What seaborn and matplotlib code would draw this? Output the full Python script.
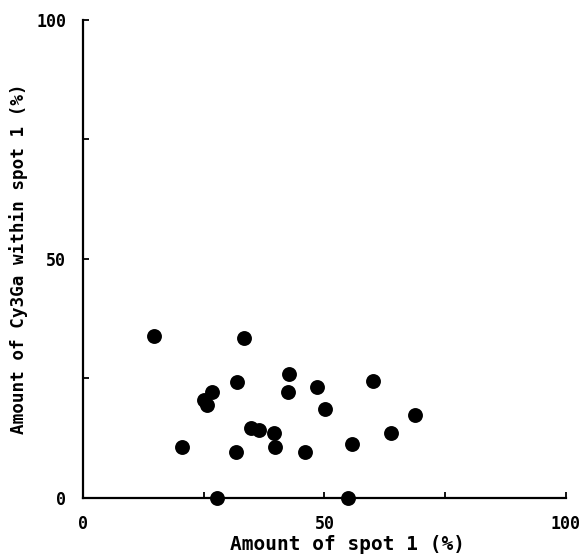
"""Scatter of Cy3Ga content within spot 1 against amount of spot 1."""
import matplotlib.pyplot as plt
import seaborn as sns

# values
spot1_amount = [14.8, 33.3, 42.7, 31.8, 60.1, 48.5, 42.5, 26.7, 25.1, 25.7, 50.2, 68.7,
                34.8, 36.5, 39.5, 63.7, 20.6, 39.8, 55.8, 31.7, 46.0, 27.8, 54.8]
cy3ga_within = [33.9, 33.4, 25.9, 24.2, 24.5, 23.2, 22.1, 22.2, 20.5, 19.5, 18.7, 17.3,
                14.6, 14.3, 13.7, 13.7, 10.7, 10.7, 11.2, 9.7, 9.6, 0.0, 0.0]

tick_values = [0, 25, 50, 75, 100]
tick_labels = ["0", "", "50", "", "100"]

sns.set_style("ticks")
plt.rcParams["font.family"] = ["DejaVu Sans Mono", "DejaVu Sans"]
plt.rcParams["font.weight"] = "bold"
plt.rcParams["text.color"] = "black"
plt.rcParams["axes.labelcolor"] = "black"
plt.rcParams["xtick.color"] = "black"
plt.rcParams["ytick.color"] = "black"

fig = plt.figure(figsize=(5.84, 5.54), dpi=100)
ax = fig.add_axes([0.1421, 0.1011, 0.827, 0.8628])

sns.scatterplot(x=spot1_amount, y=cy3ga_within, ax=ax, color="black", s=115,
                edgecolor="black", linewidth=0, clip_on=False, zorder=5)

ax.set_xlim(0, 100)
ax.set_ylim(0, 100)
ax.set_xticks(tick_values)
ax.set_xticklabels(tick_labels)
ax.set_yticks(tick_values)
ax.set_yticklabels(tick_labels)
ax.tick_params(direction="in", length=4, width=1.3, colors="black",
               labelsize=12, pad=12)
for lbl in ax.get_xticklabels() + ax.get_yticklabels():
    lbl.set_fontweight("bold")

for side in ["top", "right"]:
    ax.spines[side].set_visible(False)
for side in ["left", "bottom"]:
    ax.spines[side].set_linewidth(1.6)
    ax.spines[side].set_color("black")

ax.set_xlabel("Amount of spot 1 (%)", fontsize=14, fontweight="bold")
ax.xaxis.set_label_coords(0.547, -0.077)
ax.set_ylabel("Amount of Cy3Ga within spot 1 (%)", fontsize=12.7, fontweight="bold",
              labelpad=6)

fig.savefig("out.png", dpi=100)
